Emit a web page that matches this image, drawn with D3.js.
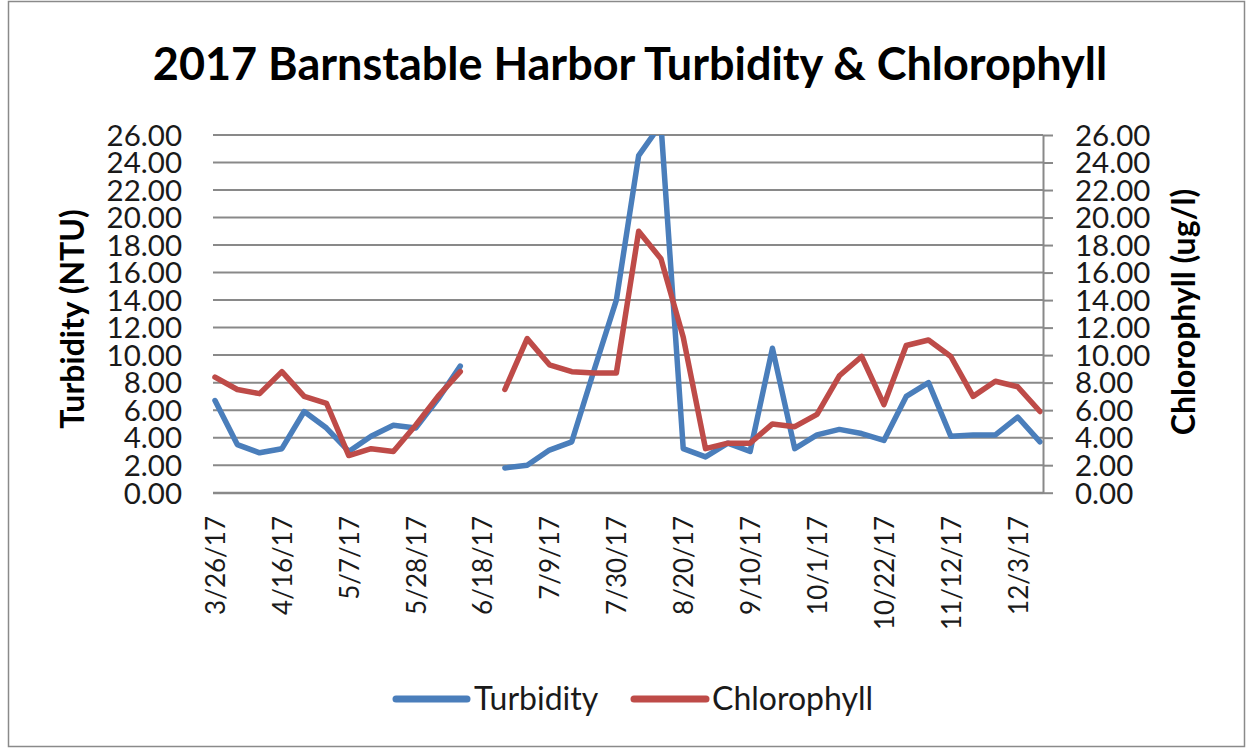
<!DOCTYPE html>
<html>
<head>
<meta charset="utf-8">
<script src="https://cdn.jsdelivr.net/npm/d3@7"></script>
<style>
  html, body { margin: 0; padding: 0; background: #fff; }
  svg { display: block; font-family: Lato, "Open Sans", sans-serif; }
</style>
</head>
<body>
<svg id="chart" width="1247" height="750"></svg>
<script>
// ---- data ----
const dates = ["3/26/17","4/2/17","4/9/17","4/16/17","4/23/17","4/30/17","5/7/17","5/14/17","5/21/17","5/28/17",
  "6/4/17","6/11/17","6/18/17","6/25/17","7/2/17","7/9/17","7/16/17","7/23/17","7/30/17","8/6/17",
  "8/13/17","8/20/17","8/27/17","9/3/17","9/10/17","9/17/17","9/24/17","10/1/17","10/8/17","10/15/17",
  "10/22/17","10/29/17","11/5/17","11/12/17","11/19/17","11/26/17","12/3/17","12/10/17"];
const turbidity = [6.7,3.5,2.9,3.2,5.9,4.7,3.0,4.1,4.9,4.7,
  6.8,9.2,null,1.8,2.0,3.1,3.7,8.9,14.0,24.5,
  26.8,3.2,2.6,3.6,3.0,10.5,3.2,4.2,4.6,4.3,
  3.8,7.0,8.0,4.1,4.2,4.2,5.5,3.7];
const chlorophyll = [8.4,7.5,7.2,8.8,7.0,6.5,2.7,3.2,3.0,4.9,
  7.0,8.8,null,7.5,11.2,9.3,8.8,8.7,8.7,19.0,
  17.0,11.3,3.2,3.6,3.6,5.0,4.8,5.7,8.5,9.9,
  6.4,10.7,11.1,9.9,7.0,8.1,7.7,5.9];
const tickDates = ["3/26/17","4/16/17","5/7/17","5/28/17","6/18/17","7/9/17","7/30/17","8/20/17",
  "9/10/17","10/1/17","10/22/17","11/12/17","12/3/17"];
const yTicks = [0,2,4,6,8,10,12,14,16,18,20,22,24,26];
const seriesNames = ["Turbidity","Chlorophyll"];
const colors = ["#4A7EBB","#BE4B48"];

// ---- setup ----
const parse = d3.timeParse("%-m/%-d/%y");
const svg = d3.select("#chart");
const plot = {left: 213, right: 1043, top: 135, bottom: 493};

svg.append("rect").attr("x", 8.5).attr("y", 1.5).attr("width", 1236).attr("height", 745)
  .attr("fill", "#fff").attr("stroke", "#8a8a8a").attr("stroke-width", 1.5);

const x = d3.scaleTime()
  .domain([parse(dates[0]), parse(dates[dates.length-1])])
  .range([215, 1040]);
const y = d3.scaleLinear().domain([0, 26]).range([492.7, 135]);

// gridlines
svg.append("g").selectAll("line").data(yTicks.slice(1)).join("line")
  .attr("x1", plot.left).attr("x2", plot.right)
  .attr("y1", d => y(d)).attr("y2", d => y(d))
  .attr("stroke", "#898989").attr("stroke-width", 2);

// clip
svg.append("clipPath").attr("id", "clip").append("rect")
  .attr("x", plot.left - 5).attr("y", plot.top).attr("width", plot.right - plot.left + 10).attr("height", plot.bottom - plot.top + 5);

// lines
const rows = dates.map((d, i) => ({date: parse(d), t: turbidity[i], c: chlorophyll[i]}));
const line = key => d3.line().defined(d => d[key] != null).x(d => x(d.date)).y(d => y(d[key]));
const g = svg.append("g").attr("clip-path", "url(#clip)");
["t","c"].forEach((k, i) => {
  g.append("path").datum(rows).attr("d", line(k))
    .attr("fill", "none").attr("stroke", colors[i]).attr("stroke-width", 5.5)
    .attr("stroke-linejoin", "round").attr("stroke-linecap", "round");
});

// bottom axis
const xAxis = d3.axisBottom(x).tickValues(tickDates.map(parse)).tickFormat(d3.timeFormat("%-m/%-d/%y")).tickSize(0);
const gx = svg.append("g").attr("transform", `translate(0,${plot.bottom})`).call(xAxis);
gx.select(".domain").remove();
gx.selectAll("text")
  .attr("font-family", "Lato").attr("font-size", 26).attr("fill", "#1a1a1a")
  .attr("text-anchor", "end").attr("transform", "rotate(-90)")
  .attr("x", -23).attr("y", 0).attr("dy", "0.36em");
svg.append("line").attr("x1", plot.left).attr("x2", plot.right)
  .attr("y1", plot.bottom).attr("y2", plot.bottom).attr("stroke", "#898989").attr("stroke-width", 2.5);

// left axis labels
const yl = d3.axisLeft(y).tickValues(yTicks).tickFormat(d3.format(".2f")).tickSize(0);
const gyl = svg.append("g").attr("transform", `translate(182,0)`).call(yl);
gyl.select(".domain").remove();
gyl.selectAll("text").attr("font-family", "Lato").attr("font-size", 29.5).attr("fill", "#1a1a1a").attr("x", 0).attr("dy", "0.35em");

// right axis
const yr = d3.axisRight(y).tickValues(yTicks).tickFormat(d3.format(".2f")).tickSize(10).tickSizeOuter(0);
const gyr = svg.append("g").attr("transform", `translate(${plot.right},0)`).call(yr);
gyr.select(".domain").attr("stroke", "#898989").attr("stroke-width", 2);
gyr.selectAll(".tick line").attr("stroke", "#898989").attr("stroke-width", 2);
gyr.selectAll("text").attr("font-family", "Lato").attr("font-size", 29.5).attr("fill", "#1a1a1a").attr("x", 32).attr("dy", "0.35em");

// title
svg.append("text").attr("x", 630).attr("y", 80).attr("text-anchor", "middle")
  .attr("font-family", "Lato").attr("font-weight", "bold").attr("font-size", 45).attr("fill", "#000")
  .text("2017 Barnstable Harbor Turbidity & Chlorophyll");

// axis titles
svg.append("text").attr("transform", "translate(84,319) rotate(-90)").attr("text-anchor", "middle")
  .attr("font-family", "Lato").attr("font-weight", "bold").attr("font-size", 32).attr("fill", "#000")
  .text("Turbidity (NTU)");
svg.append("text").attr("transform", "translate(1195,312) rotate(-90)").attr("text-anchor", "middle")
  .attr("font-family", "Lato").attr("font-weight", "bold").attr("font-size", 32).attr("fill", "#000")
  .text("Chlorophyll (ug/l)");

// legend
const legend = [{x1: 396, x2: 467, tx: 474}, {x1: 634, x2: 706, tx: 712}];
legend.forEach((l, i) => {
  svg.append("line").attr("x1", l.x1).attr("x2", l.x2).attr("y1", 699).attr("y2", 699)
    .attr("stroke", colors[i]).attr("stroke-width", 7).attr("stroke-linecap", "round");
  svg.append("text").attr("x", l.tx).attr("y", 699).attr("dy", "0.35em")
    .attr("font-family", "Lato").attr("font-size", 32).attr("fill", "#1a1a1a").text(seriesNames[i]);
});
</script>
</body>
</html>
